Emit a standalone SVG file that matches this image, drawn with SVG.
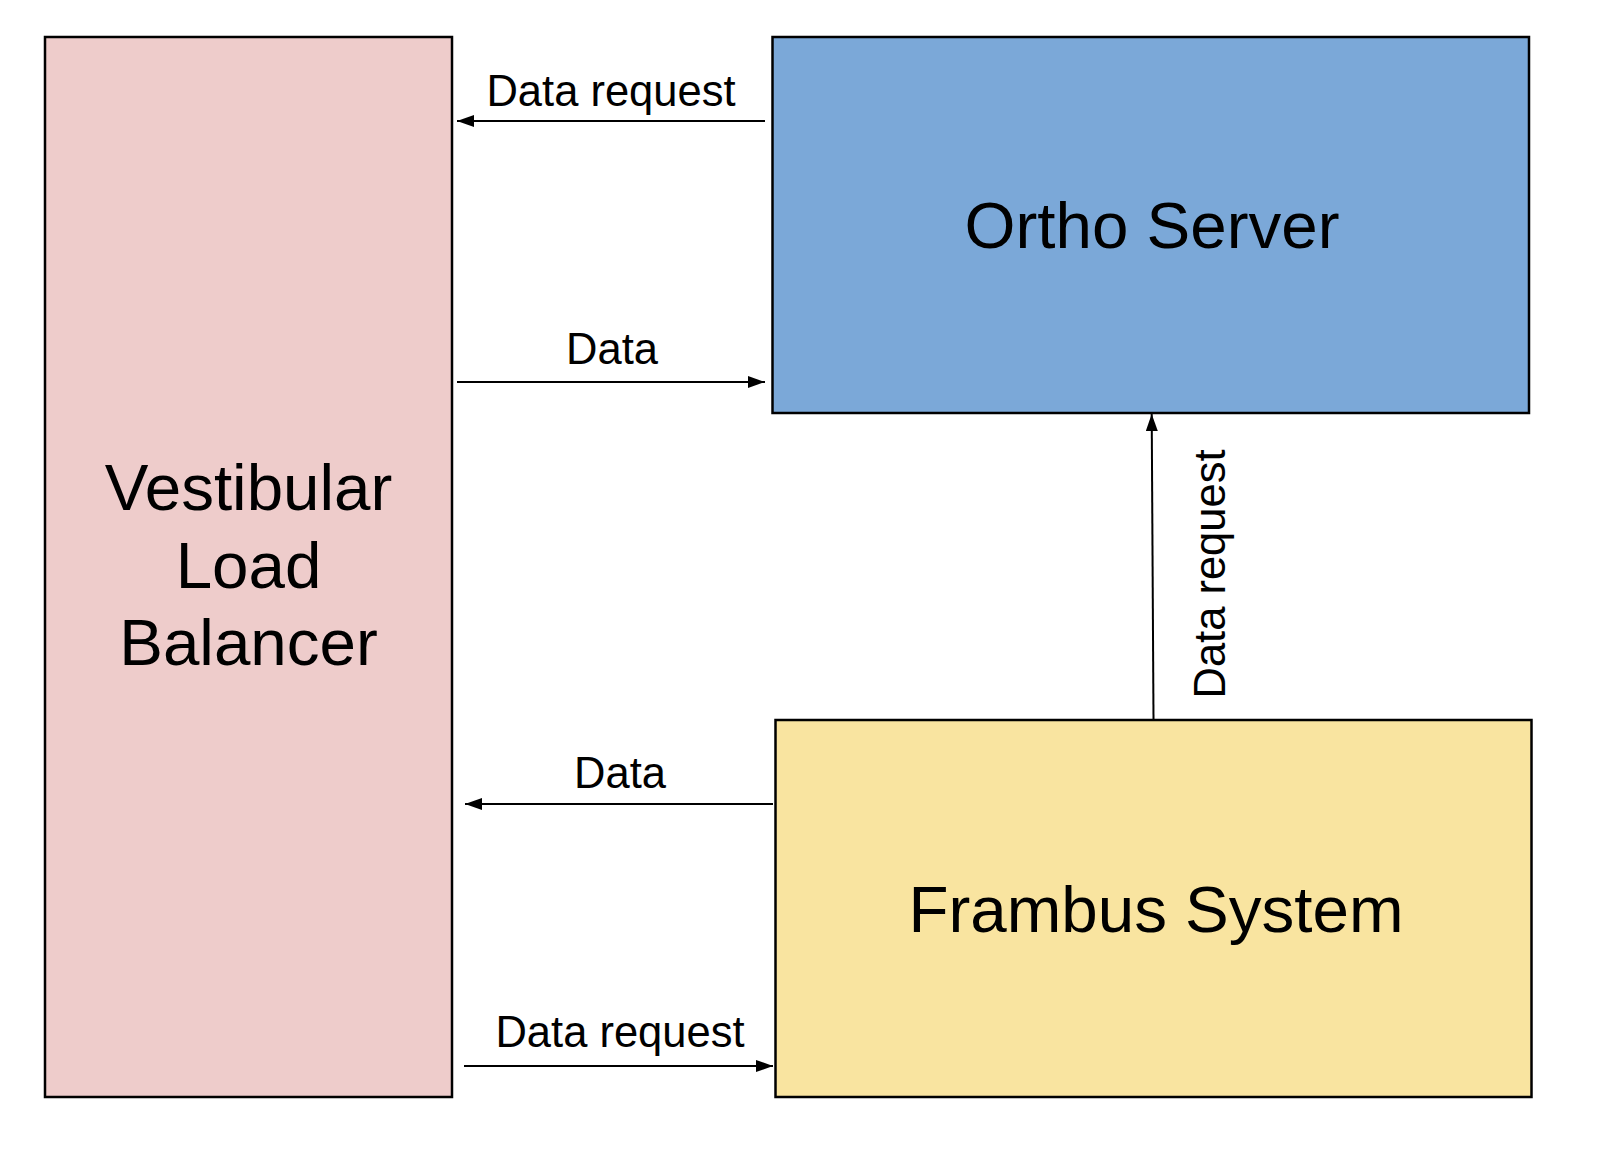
<svg xmlns="http://www.w3.org/2000/svg" width="1600" height="1164" viewBox="0 0 1600 1164">
<defs>
<style>
.box{stroke:#000;stroke-width:2.5}
.title{font-family:"Liberation Sans",Arial,sans-serif;font-size:65.5px;fill:#000;text-anchor:middle}
.lbl{font-family:"Liberation Sans",Arial,sans-serif;font-size:43.5px;fill:#000;text-anchor:middle}
.conn{stroke:#000;stroke-width:2;fill:none;marker-end:url(#ah)}
</style>
<marker id="ah" markerUnits="userSpaceOnUse" markerWidth="20" markerHeight="14" refX="17" refY="6" orient="auto">
<path d="M0,0 L17,6 L0,12 Z" fill="#000"/>
</marker>
</defs>
<rect width="1600" height="1164" fill="#fff"/>
<g id="vestibular">
<rect class="box" x="45" y="37" width="407" height="1060" fill="#eecccb"/>
<text class="title" x="248.5" y="510">Vestibular</text>
<text class="title" x="248.5" y="588">Load</text>
<text class="title" x="248.5" y="665">Balancer</text>
</g>
<g id="ortho">
<rect class="box" x="772.5" y="37" width="756.5" height="376" fill="#7ba8d8"/>
<text class="title" x="1152" y="248">Ortho Server</text>
</g>
<g id="frambus">
<rect class="box" x="775.5" y="720" width="756" height="377" fill="#f9e4a0"/>
<text class="title" x="1156" y="932">Frambus System</text>
</g>
<g id="connectors">
<line class="conn" x1="765" y1="121" x2="457" y2="121"/>
<text class="lbl" x="611" y="106">Data request</text>
<line class="conn" x1="457" y1="382" x2="765" y2="382"/>
<text class="lbl" x="612" y="364">Data</text>
<line class="conn" x1="773" y1="804" x2="465" y2="804"/>
<text class="lbl" x="620" y="788">Data</text>
<line class="conn" x1="464" y1="1066" x2="773" y2="1066"/>
<text class="lbl" x="620" y="1047">Data request</text>
<line class="conn" x1="1153.5" y1="720" x2="1151.7" y2="414"/>
<text class="lbl" transform="translate(1225,574) rotate(-90)" x="0" y="0">Data request</text>
</g>
</svg>
